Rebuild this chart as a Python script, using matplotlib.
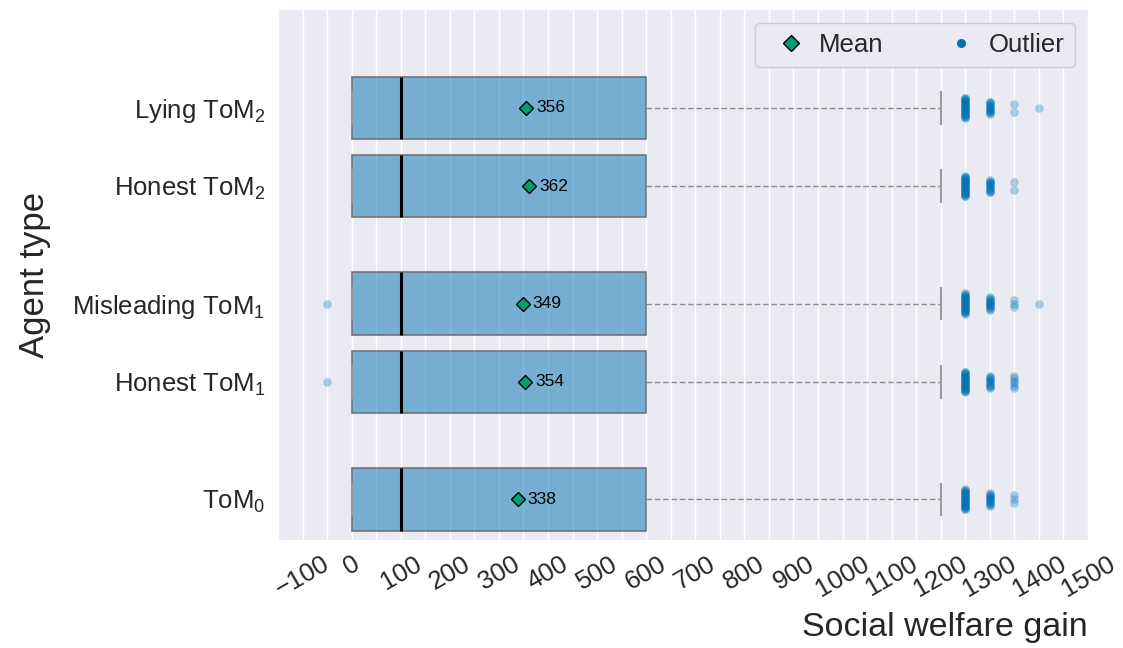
import matplotlib.pyplot as plt
from matplotlib.lines import Line2D
from matplotlib.ticker import MultipleLocator
import numpy as np

# agent types, bottom to top
agents = [r'ToM$_0$', r'Honest ToM$_1$', r'Misleading ToM$_1$',
          r'Honest ToM$_2$', r'Lying ToM$_2$']
positions = [0, 1.5, 2.5, 4, 5]

# box statistics of the social welfare gain
q1 = [0, 0, 0, 0, 0]
medians = [100, 100, 100, 100, 100]
q3 = [600, 600, 600, 600, 600]
whislo = [0, 0, 0, 0, 0]
whishi = [1200, 1200, 1200, 1200, 1200]
means = [338, 354, 349, 362, 356]

# outliers: value and number of runs at that value
outlier_values = [
    [1250, 1300, 1350],
    [-50, 1250, 1300, 1350],
    [-50, 1250, 1300, 1350, 1400],
    [1250, 1300, 1350],
    [1250, 1300, 1350, 1400],
]
outlier_counts = [
    [30, 15, 3],
    [1, 30, 12, 6],
    [1, 30, 15, 3, 1],
    [30, 15, 2],
    [30, 15, 2, 1],
]

blue = '#0173b2'
green = '#029e73'
text_col = '#262626'

plt.rcParams['font.family'] = ['Liberation Sans', 'DejaVu Sans']
plt.rcParams['mathtext.fontset'] = 'custom'
plt.rcParams['mathtext.rm'] = 'Liberation Sans'
plt.rcParams['mathtext.it'] = 'Liberation Sans:italic'
plt.rcParams['mathtext.bf'] = 'Liberation Sans:bold'
plt.rcParams['text.color'] = text_col
plt.rcParams['axes.labelcolor'] = text_col
plt.rcParams['xtick.color'] = text_col
plt.rcParams['ytick.color'] = text_col

fig = plt.figure(figsize=(11.23, 6.48), dpi=100)
ax = fig.add_axes([278 / 1123, 108 / 648, 810 / 1123, 530 / 648])
ax.set_facecolor('#eaeaf2')
for s in ax.spines.values():
    s.set_visible(False)

stats = []
for i in range(len(agents)):
    stats.append(dict(q1=q1[i], med=medians[i], q3=q3[i],
                      whislo=whislo[i], whishi=whishi[i], label=agents[i]))

ax.bxp(stats, positions=positions, widths=0.8, orientation='horizontal',
       patch_artist=True, showfliers=False, showmeans=False, capwidths=0.4,
       boxprops=dict(facecolor=(0.004, 0.451, 0.698, 0.5), edgecolor='#6e6e6e', linewidth=1.1),
       medianprops=dict(color='black', linewidth=2.2),
       whiskerprops=dict(color='#8c8c8c', linestyle=(0, (4, 2)), linewidth=1.0),
       capprops=dict(color='#9a9a9a', linewidth=1.5),
       zorder=2)

# outliers, spread a little around each row
for p, vals, counts in zip(positions, outlier_values, outlier_counts):
    for v, n in zip(vals, counts):
        spread = 0.13 if n >= 20 else (0.08 if n >= 6 else 0.05)
        offs = np.linspace(-spread, spread, n) if n > 1 else np.array([0.0])
        ax.plot(np.full(n, v), p + offs, 'o', color=blue, alpha=0.3,
                markersize=6.2, markeredgewidth=0, zorder=3)

# means with their value
for p, m in zip(positions, means):
    ax.plot(m, p, 'D', markersize=7.2, markerfacecolor=green,
            markeredgecolor='black', markeredgewidth=1.0, zorder=4)
    ax.annotate(f'{m}', (m, p), xytext=(7, 0), textcoords='offset points',
                va='center', ha='left', fontsize=12.5, color='black', zorder=5)

ax.set_xlim(-150, 1500)
ax.set_ylim(-0.52, 6.25)
ax.set_xticks(np.arange(-100, 1501, 100))
ax.xaxis.set_minor_locator(MultipleLocator(50))
ax.set_yticks(positions)
ax.set_yticklabels(agents)
ax.grid(axis='x', which='both', color='white', linewidth=1.0, zorder=0)
ax.set_axisbelow(True)
ax.tick_params(axis='both', which='both', length=0)
ax.tick_params(axis='x', labelsize=18.5, pad=8.5, labelrotation=30)
ax.tick_params(axis='y', labelsize=18.5, pad=9)

ax.set_xlabel('Social welfare gain', fontsize=24.5, loc='right')
ax.xaxis.set_label_coords(1.0, -0.135)
ax.set_ylabel('Agent type', fontsize=25)
ax.yaxis.set_label_coords(-0.28, 0.5)

handles = [
    Line2D([], [], linestyle='none', marker='D', markersize=8.5,
           markerfacecolor=green, markeredgecolor='black', markeredgewidth=1.0),
    Line2D([], [], linestyle='none', marker='o', markersize=6.5,
           markerfacecolor=blue, markeredgewidth=0),
]
leg = ax.legend(handles, ['Mean', 'Outlier'], loc='upper right', ncol=2,
                fontsize=18.5, handletextpad=0.1, columnspacing=2.0,
                facecolor='#eaeaf2', edgecolor='#cccccc', framealpha=1.0)

fig.savefig('out.png', dpi=100)
